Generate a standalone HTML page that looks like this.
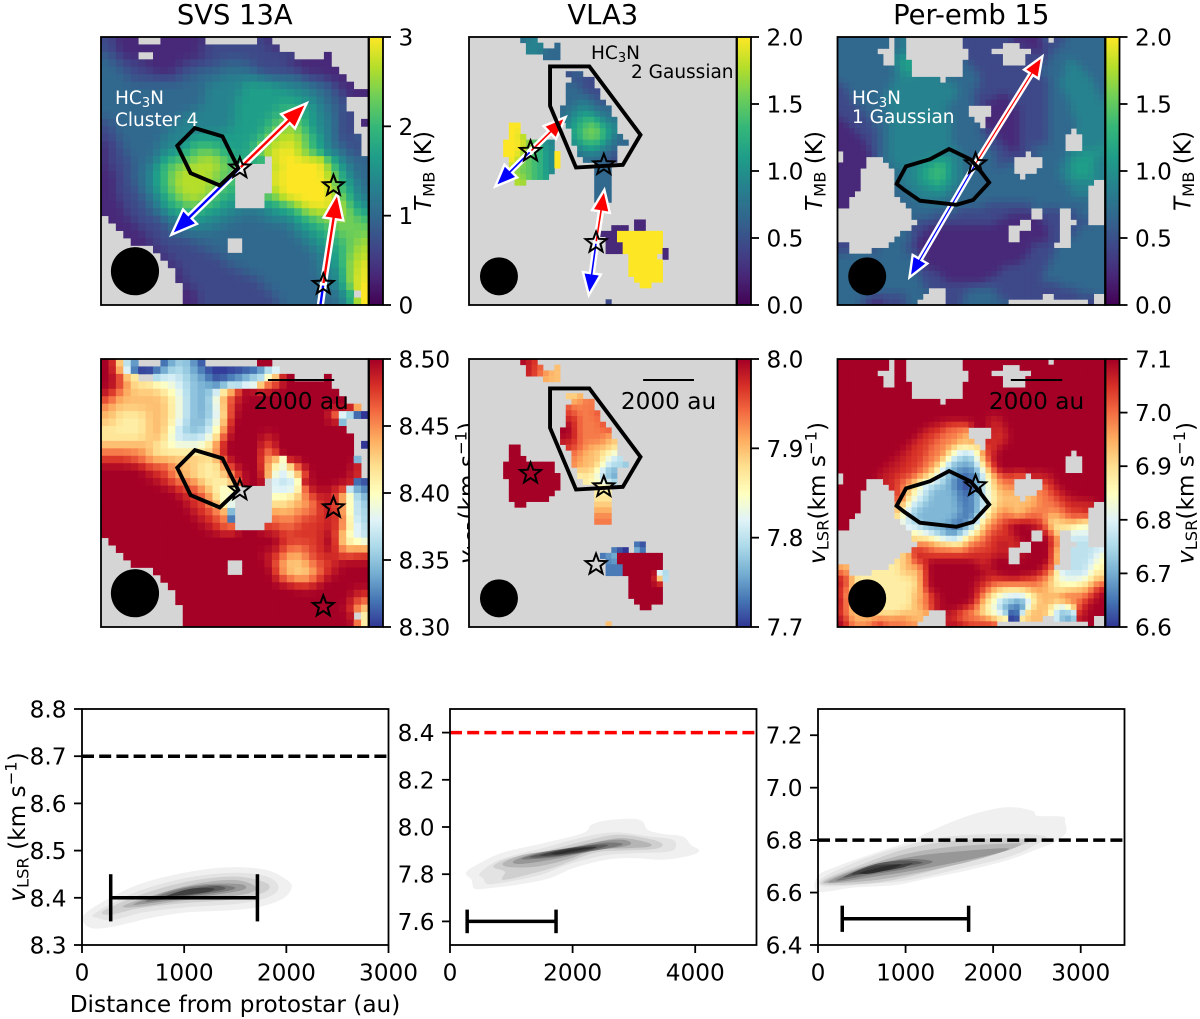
<!DOCTYPE html>
<html lang="en">
<head>
<meta charset="utf-8">
<title>HC3N temperature and velocity maps</title>
<style>
html,body{margin:0;padding:0;background:#fff}
svg{display:block;font-family:"DejaVu Sans","Liberation Sans",sans-serif}
</style>
</head>
<body>
<svg id="figure" xmlns="http://www.w3.org/2000/svg" width="1200" height="1019" viewBox="0 0 1200 1019"></svg>
<script>
// ---------- heatmap data: encoded levels 0-9 (a = 8.5), "." = masked ----------
const svsTempRows = [
"22111. ..1111 11.... ...21. ...... ......",
"221111 111111 122222 222221 ...... ......",
"32211. .11111 112222 222222 22.... 1.....",
"332221 111112 222233 332222 211111 1.....",
"333222 211122 233333 333222 222111 11....",
"333322 222223 333344 444433 333222 111...",
"333333 333333 334444 455555 444433 3211..",
"333333 333333 334444 455555 554443 322111",
"333333 333333 334444 555555 555544 332...",
"333333 333333 344444 555555 666554 332...",
"333333 333334 444444 555556 666554 4322..",
"233333 333344 444444 555566 777654 4322.1",
"223333 333444 444445 555567 887654 4322..",
"223333 334444 555555 555678 888765 43223.",
"122333 334445 666655 556788 898765 43322.",
"122333 344556 677665 556889 998765 44332.",
"122233 345667 788876 6655.8 999999 754333",
"122233 456778 888877 .....8 999999 865433",
"112233 456788 888776 .....8 999999 875433",
"112233 456788 888776 .....9 999999 976543",
"112223 456788 888766 .....7 999999 976543",
"112223 345678 887665 ....78 999999 987644",
"111222 345667 776655 ....55 678999 988654",
"111222 334556 655544 444445 556788 888765",
".11122 223445 554444 333344 445667 787776",
"..1112 222334 444433 333333 344556 677777",
"...111 222333 333333 333333 334455 667777",
"....11 122222 33333. .33333 333445 566778",
"...... .12222 22333. .33333 333344 556788",
"...... ..1222 222233 333333 333334 456788",
"...... ...122 222223 333333 333334 456889",
"...... ....12 222222 233333 333334 445889",
"...... ....12 222222 222333 333333 445889",
"...... .....1 222222 222233 333333 445899",
"...... .....1 122222 222223 333333 3345.9",
"...... .....1 122222 222222 333333 334599"
];
const svsVelRows = [
"99622. ..0223 10.... ...99. ...... ......",
"996300 001332 210000 000033 ...... ......",
"99865. .34433 221001 123345 99.... 9.....",
"998755 554433 222123 344588 999999 9.....",
"987666 665543 222467 899999 999999 99....",
"876666 666543 222468 a99999 999999 999...",
"766666 666543 222468 999999 999999 99996.",
"665555 666543 222358 999999 999999 964300",
"665555 666543 223469 999999 999999 991...",
"555555 666432 223469 999999 999999 999...",
"555555 666433 334589 999989 999999 9999..",
"666666 655444 445699 999979 999999 9999.0",
"777777 655555 556799 999969 999999 9999..",
"888877 666666 665589 999957 399999 99992.",
"999999 888766 655568 999965 458999 99998.",
"999999 a88766 555567 899963 345899 99998.",
"999999 998877 765555 8999.4 334999 999800",
"999999 999988 866544 .....3 3348a9 9a8321",
"999999 999998 887544 .....5 556788 977432",
"999999 999999 887654 .....5 566678 987432",
"999999 999999 a88761 .....7 667778 a87433",
"999999 999999 9a8871 .....7 777888 aa7432",
"999999 999999 99a876 ....78 778888 a88543",
"999999 999999 999999 999999 888888 9a5433",
".99999 999999 999999 999999 888888 995543",
"..9999 999999 999999 999999 877788 996677",
"...999 999999 999999 999988 766788 888888",
"....99 999999 99999. .99998 666678 8a9999",
"...... .99999 99999. .99998 665667 8a9999",
"...... ..9999 999999 999999 776678 999999",
"...... ...999 999999 999999 99aaa9 999999",
"...... ....99 999999 999999 999999 99998a",
"...... ....99 999999 999999 999999 999987",
"...... .....9 999999 999999 999999 999866",
"...... .....9 999999 999999 999999 9999.4",
"...... .....9 999999 999999 999999 999984"
];
// sparse maps: [row, first column, encoded levels]
const vlaTempSegments = [
[0,9,"344"],[1,10,"444"],[1,15,"3"],[2,10,"444333"],[3,13,"333"],
[6,17,"233"],[7,18,"2222"],[8,17,"33322"],[9,17,"333222"],[10,17,"333332"],[11,17,"3344332"],
[12,16,"334444333"],[13,16,"344555443"],[14,16,"3455665443"],[15,17,"456677554"],[16,18,"56777654"],
[17,18,"567776543"],[18,18,"4566654333"],[19,19,"4555443"],[20,19,"3444332"],[21,20,"333322"],
[22,22,"333"],[23,22,"333"],[24,22,"333"],[25,22,"333"],[26,22,"333"],[27,22,"333"],[28,22,"333"],
[15,7,"99"],[16,7,"99"],[17,7,"997"],[18,6,"999977544"],[19,6,"999977654"],[20,6,"9997766549"],
[21,7,"997766549"],[22,7,"977766549"],[23,7,"87776654"],[24,7,"8877665"],[25,8,"88"],
[32,29,"11"],[33,25,"111"],[33,29,"11"],[34,23,"111"],[34,26,"99999999"],[35,24,"11"],[35,26,"99999999"],
[36,24,"111"],[36,27,"9999999"],[37,24,"111"],[37,27,"9999999"],[37,34,"1"],[38,28,"99999"],[38,34,"1"],
[39,28,"999999"],[40,28,"999999"],[41,28,"999999"],[42,29,"99999"],[43,30,"99"],[46,24,"2"]
];
const vlaVelSegments = [
[0,9,"9a8"],[1,10,"a87"],[1,15,"6"],[2,10,"a87766"],[3,13,"666"],
[6,17,"656"],[7,18,"6777"],[8,17,"87777"],[9,17,"877778"],[10,17,"897777"],[11,17,"9877778"],
[12,16,"99a777778"],[13,16,"99a777776"],[14,16,"a8a7777766"],[15,17,"887766665"],[16,18,"77666554"],
[17,18,"766665433"],[18,18,"7766653332"],[19,19,"5664322"],[20,19,"5554321"],[21,20,"554433"],
[22,22,"555"],[23,22,"555"],[24,22,"555"],[25,22,"666"],[26,22,"666"],[27,22,"777"],[28,22,"777"],
[15,7,"99"],[16,7,"99"],[17,7,"999"],[18,6,"999999999"],[19,6,"999999999"],[20,6,"9999999999"],
[21,7,"999999999"],[22,7,"999999999"],[23,7,"99999999"],[24,7,"9999999"],[25,8,"99"],
[32,29,"00"],[33,25,"000"],[33,29,"40"],[34,23,"114"],[34,26,"99999999"],[35,24,"11"],[35,26,"99999999"],
[36,24,"111"],[36,27,"9999999"],[37,24,"111"],[37,27,"999999"],[37,33,"4"],[37,34,"2"],[38,28,"99999"],[38,33,"5"],[38,34,"2"],
[39,28,"999999"],[40,28,"999999"],[41,28,"999999"],[42,29,"99999"],[43,30,"99"],[46,24,"6"]
];
const perTempRows = [
"333333 333.34 ...... ....22 222222 211111 3.2233 33333",
"333333 333.34 ...... ....22 22222. ..2111 222333 33333",
"333333 3...34 ...... .....2 222... ....21 223333 33333",
"333333 33..45 ...... .....2 22222. ...222 233333 33333",
"333333 33..45 5..... ....32 22222. ...222 233344 33333",
"333333 333345 5..... ....33 222222 222223 333344 43333",
"333333 333344 5..... ....33 322222 222222 333344 44333",
"333333 333344 444444 .33333 322222 222222 233444 44433",
"233333 333444 444444 444333 322222 222222 233444 44433",
"223333 333444 444444 444333 222222 222222 233344 44443",
"223333 334444 444444 444333 222211 222222 233344 44443",
"222333 334444 444444 443333 221111 122222 233334 44444",
"222233 333444 444444 43333. ...111 112222 233334 44444",
"222223 333444 444444 44333. ...111 112222 233334 44444",
"122222 333444 444444 443333 ..1111 112222 233333 44444",
"112222 333444 444444 443333 3.1111 112222 233333 44444",
"111222 233444 444444 443333 322111 112222 23333. 44444",
"111122 233444 444444 443333 332211 112222 2333.. .4444",
"111112 233444 444444 443333 332221 112222 2333.. .4444",
"111112 233444 444444 444333 333222 112233 3333.. .4445",
".11111 233444 444444 444433 333322 222.23 333344 45554",
".1111. ..3444 444455 554433 333322 2..... 333345 55544",
"11111. ...344 445556 654433 333323 3..... 333445 55544",
"1111.. ....34 445566 654433 333333 3....3 333445 55544",
"1111.. ....34 445566 654433 333333 33.333 333445 55544",
"1111.. ....34 445556 554433 333333 333333 333344 444..",
"1111.. ....33 444455 544333 333333 333333 333334 44...",
"111... ....33 344444 443333 333333 333333 333334 44...",
"11.... .....3 334444 433333 333333 333333 333333 33...",
"11.... ...... 333333 333333 332222 222233 333333 33...",
"...... ...... .33333 333222 222222 2222.. 222..2 33...",
"...... ...... .33332 222222 222222 1111.. 222..2 33...",
"...... ...... ..2222 222222 222211 11..11 222... 22...",
"...... ...... .22211 111111 111111 ....11 122..2 33333",
"...... .....3 322111 111111 111111 ..1111 122..2 33333",
"...... ....33 321111 111111 111111 ..1111 122..3 33333",
"22.... ...333 221111 111111 111111 111122 22...3 33333",
"22.... 233333 221111 111111 111111 111122 223333 33333",
"333333 333333 332111 111111 111111 111222 223333 33333",
"333333 333333 332111 111111 111111 112222 233333 33333",
"333344 333333 332211 111111 111112 222222 233333 33333",
"333444 433333 332222 111111 111122 222222 333333 33333",
"333444 433333 333222 211111 112222 222222 333333 33333",
"333344 333333 333222 222222 222222 222222 222333 33333",
"333333 333333 3333.. .22223 333322 222222 222222 33333",
"333332 222222 333... .22233 333322 222222 ..2222 222..",
"333322 112222 33.... .22233 333333 ...... ...... ..2.."
];
const perVelRows = [
"999999 999.99 ...... ....99 999999 999999 9.9999 99999",
"999999 999.99 ...... ....99 99999. ..9999 999999 99999",
"999999 9...99 ...... .....9 999... ....99 999999 99999",
"999999 99..99 ...... .....9 99999. ...999 999999 99999",
"999999 99..99 9..... ....99 99999. ...999 999999 99999",
"999999 999999 9..... ....99 999999 999999 999999 99999",
"999999 999999 9..... ....99 999999 999999 999999 99999",
"999999 999999 999999 .99999 999999 999999 999999 99999",
"999999 999999 999999 999999 999999 999999 999999 99999",
"999999 999999 999999 999999 999999 999999 999999 99999",
"999999 999999 999999 999999 99aaa9 999999 999999 99999",
"999999 999999 99999a a8888a 9998a9 999999 999999 99999",
"999999 999999 999a88 87776. ...a8a 999999 999999 99999",
"999999 999999 99a888 77776. ...a8a 999999 999999 99999",
"999999 999999 9a8887 777667 ..a88a 999999 999999 99999",
"999999 999999 a88877 766555 6.8899 999999 999999 99999",
"999999 99999a a88877 764333 478899 999999 99999. 99999",
"999999 9999aa 888777 643322 468999 999999 9999.. .9999",
"999999 999aaa 888776 532222 357899 999999 9999.. .9999",
"999999 99aaa8 887765 322111 246899 999999 9999.. .9999",
".99999 9aaa88 877654 322111 135678 877.88 aa9999 99999",
".9999. ..a887 765443 321101 234677 7..... 8a9999 99999",
"99999. ...a87 654332 221100 234667 7..... 78a999 99999",
"9999.. ....87 654322 222111 234566 6....7 788a99 99999",
"9999.. ....87 543322 222111 234566 66.667 7788aa 99999",
"9999.. ....76 433222 222111 234566 666667 77788a 888..",
"9999.. ....65 332222 222211 235667 666777 777788 8a...",
"999... ....64 322222 222111 245677 766777 766778 7a...",
"99.... .....4 332222 221112 356778 8a9a88 756667 65...",
"99.... ...... 433222 211123 467788 99999a 865554 44...",
"...... ...... .54432 211234 567888 a999.. 975..4 44...",
"...... ...... .65554 433456 778888 8a99.. 996..3 33...",
"...... ...... ..7776 665567 778899 8a..99 996... 33...",
"...... ...... .88877 777778 888888 ....99 9a5..3 33333",
"...... .....6 5a8888 888888 8a8a9a ..a999 995..3 33345",
"...... ....56 6a8a99 999999 a8a999 ..9999 9a5..3 33344",
"66.... ...556 666a99 999999 9aa999 999999 a7...3 33455",
"86.... 555556 666a99 999999 99aa99 99999a 875333 33455",
"a86555 555555 566a99 999999 9aa8aa a98887 764444 44566",
"a86555 555555 556899 999999 a88777 777777 665544 55677",
"a76555 555555 566a99 999999 a87665 555667 665566 66789",
"a75555 555555 56668a 999999 876544 444556 666777 778a9",
"976555 555555 5677aa 999999 865432 211356 676777 78a99",
"976666 555555 56678a 9999a8 765532 211466 653346 8a999",
"876666 655556 6666.. .aa877 654332 004666 653223 8a999",
"986666 677777 666... .a8777 777666 005666 ..4213 a99..",
"9a7777 8a7777 77.... .a99a8 8888.. ...... ...... ..9.."
];

// ---------- map annotations (percent of the map width / height) ----------
const svsContour = [[28.5,40.6],[35.1,34.0],[45.4,37.1],[51.3,48.9],[44.4,55.4],[33.5,50.8]];
const vlaContour = [[30.3,11],[45.0,11],[64.1,36.5],[57.5,47.7],[40.0,48.7],[30.3,25.7]];
const perContour = [[22.1,54.8],[25.6,48.3],[34.6,45.6],[41.7,41.8],[49.6,45.6],[52.6,48.9],[56.7,54.3],[50.7,60.8],[44.5,62.6],[30.8,61.1],[24.9,57.0]];
const svsStars = [[51.9,48.9],[86.9,55.5],[83.1,92.3]];
const vlaStars = [[23.0,42.7],[50.4,47.7],[47.5,76.7]];
const perStars = [[51.6,47.3]];
// [star index, red tip x, red tip y, blue tip x, blue tip y]; a tip beyond 100 runs off the map
const svsOutflows = [[0,76.9,24.7,26.3,73.8],[2,88.4,58.3,78.5,125]];
const vlaOutflows = [[0,36.1,29.9,9.8,55.8],[2,50.6,57.0,44.8,96.3]];
const perOutflows = [[0,76.6,7.2,26.9,89.7]];
const beamCenters = [[12.7,87.4],[11.2,89.3],[11.1,89.3]];
const beamRadii = [9,7.1,7.1];
const scaleBarSpans = [[62.4,87.2],[65.1,84.1],[64.8,84.0]];

// ---------- colorbar ticks ----------
const tempLimits = [[0,3],[0,2],[0,2]];
const velLimits = [[8.3,8.5],[7.7,8.0],[6.6,7.1]];
const tempTicks = [["0","1","2","3"],["0.0","0.5","1.0","1.5","2.0"],["0.0","0.5","1.0","1.5","2.0"]];
const velTicks = [["8.30","8.35","8.40","8.45","8.50"],["7.7","7.8","7.9","8.0"],["6.6","6.7","6.8","6.9","7.0","7.1"]];
const sourceNames = ["SVS 13A","VLA3","Per-emb 15"];

// ---------- KDE contours (distance au, vLSR km/s), outermost level first ----------
const svsKdeLevels = [
[[20,8.364],[176,8.388],[503,8.424],[829,8.445],[1155,8.459],[1482,8.465],[1808,8.459],[2004,8.438],[2053,8.422],[1971,8.399],[1743,8.381],[1417,8.373],[1025,8.369],[666,8.357],[307,8.339],[111,8.335],[20,8.346]],
[[127,8.367],[503,8.410],[992,8.441],[1482,8.453],[1808,8.445],[1922,8.424],[1841,8.403],[1547,8.388],[1025,8.380],[601,8.369],[307,8.353],[160,8.357]],
[[215,8.373],[568,8.406],[1025,8.434],[1482,8.445],[1776,8.434],[1834,8.420],[1710,8.406],[1417,8.395],[960,8.388],[568,8.378],[274,8.364]],
[[405,8.383],[764,8.410],[1155,8.431],[1482,8.438],[1678,8.427],[1678,8.413],[1482,8.404],[1025,8.395],[568,8.381]],
[[519,8.388],[894,8.417],[1221,8.429],[1547,8.429],[1596,8.419],[1417,8.410],[960,8.397],[601,8.387]],
[[617,8.392],[960,8.418],[1286,8.427],[1498,8.422],[1384,8.413],[960,8.401]],
[[764,8.399],[1058,8.418],[1319,8.425],[1400,8.419],[1221,8.411],[894,8.401]],
[[813,8.403],[1058,8.419],[1286,8.420],[1221,8.412],[894,8.404]]
];
const vlaKdeLevels = [
[[260,7.807],[488,7.847],[868,7.892],[1518,7.931],[2169,7.974],[2305,8.009],[2549,8.028],[2983,8.035],[3145,8.023],[3227,7.988],[3471,7.971],[3796,7.960],[3932,7.924],[4067,7.900],[3905,7.878],[3471,7.861],[2983,7.868],[2549,7.861],[2006,7.825],[1627,7.783],[1085,7.755],[542,7.738],[390,7.740],[352,7.776]],
[[488,7.804],[813,7.861],[1518,7.911],[2223,7.960],[2712,7.977],[3254,7.960],[3634,7.946],[3677,7.911],[3525,7.894],[2983,7.889],[2495,7.879],[1898,7.839],[1464,7.796],[813,7.762],[607,7.759],[542,7.783]],
[[705,7.832],[976,7.868],[1627,7.903],[2278,7.946],[2766,7.967],[3308,7.946],[3471,7.924],[3308,7.906],[2766,7.900],[2332,7.889],[1735,7.832],[1356,7.804],[868,7.776],[895,7.811]],
[[868,7.847],[1193,7.882],[1735,7.903],[2332,7.934],[2793,7.953],[3227,7.934],[3254,7.917],[2875,7.910],[2386,7.903],[1898,7.861],[1410,7.832],[976,7.830]],
[[1031,7.854],[1356,7.886],[1898,7.906],[2440,7.938],[2820,7.946],[2956,7.929],[2766,7.914],[2332,7.900],[1790,7.868],[1193,7.844]],
[[1166,7.865],[1573,7.896],[2115,7.917],[2549,7.934],[2820,7.929],[2657,7.914],[2115,7.889],[1573,7.868]],
[[1312,7.875],[1790,7.903],[2223,7.921],[2576,7.924],[2386,7.906],[1898,7.882],[1464,7.871]],
[[1464,7.879],[1898,7.907],[2386,7.917],[2223,7.900],[1790,7.883]],
[[1654,7.888],[2006,7.907],[2386,7.914],[2061,7.899],[1790,7.885]]
];
const perKdeLevels = [
[[0,6.664],[209,6.699],[588,6.744],[1044,6.795],[1234,6.826],[1537,6.871],[1879,6.909],[2183,6.926],[2448,6.912],[2505,6.893],[2790,6.890],[2820,6.871],[2828,6.826],[2676,6.788],[2486,6.763],[2183,6.725],[1727,6.686],[1272,6.655],[892,6.629],[437,6.620],[0,6.604]],
[[19,6.648],[399,6.712],[968,6.776],[1499,6.814],[2183,6.824],[2600,6.814],[2486,6.782],[2183,6.737],[1651,6.693],[1044,6.648],[588,6.633],[95,6.623]],
[[57,6.646],[437,6.699],[968,6.763],[1499,6.795],[2107,6.807],[2410,6.801],[2334,6.782],[2031,6.750],[1575,6.709],[1082,6.664],[664,6.638],[133,6.629]],
[[95,6.646],[512,6.699],[1044,6.750],[1575,6.776],[2107,6.786],[2316,6.786],[2183,6.763],[1727,6.718],[1120,6.674],[664,6.648],[171,6.636]],
[[140,6.646],[550,6.699],[1082,6.737],[1575,6.756],[2107,6.769],[2145,6.760],[1803,6.731],[1120,6.686],[664,6.661],[209,6.639]],
[[228,6.651],[588,6.699],[1006,6.727],[1310,6.718],[1044,6.693],[588,6.667],[285,6.648]],
[[292,6.658],[626,6.706],[968,6.722],[1196,6.714],[968,6.699],[588,6.676]],
[[380,6.671],[664,6.703],[949,6.709],[1082,6.712],[930,6.693],[588,6.674]],
[[482,6.676],[740,6.699],[949,6.707],[835,6.690],[588,6.672]]
];
const kdeXLimits = [[0,3000],[0,5000],[0,3500]];
const kdeYLimits = [[8.3,8.8],[7.5,8.5],[6.4,7.3]];
const kdeXTicks = [[0,1000,2000,3000],[0,2000,4000],[0,1000,2000,3000]];
const kdeYTicks = [["8.3","8.4","8.5","8.6","8.7","8.8"],["7.6","7.8","8.0","8.2","8.4"],["6.4","6.6","6.8","7.0","7.2"]];
const systemicVelocity = [8.7,8.4,6.8];
const fwhmStart = [281,280,277];
const fwhmEnd = [1717,1730,1720];
const fwhmVelocity = [8.4,7.6,6.5];
const fwhmCapHalfHeight = [0.05,0.05,0.05];

// ---------- styles ----------
const viridisStops = ["#440154","#482878","#3e4989","#31688e","#26828e","#1f9e89","#35b779","#6ece58","#b5de2b","#fde725"];
const rdYlBuStops = ["#313695","#4575b4","#74add1","#abd9e9","#e0f3f8","#ffffbf","#fee090","#fdae61","#f46d43","#d73027","#a50026"];
const kdeGreys = ["#f0f0f0","#e3e3e3","#cfcfcf","#b5b5b5","#979797","#787878","#5a5a5a","#404040","#2d2d2d"];
const mapLefts = [101,469,837.5];
const mapTops = [37,359];
const MAP_W = 267.5, MAP_H = 268, CB_W = 14;
const kdeLefts = [82,450,818];
const KDE_W = 306.5, KDE_TOP = 709, KDE_H = 236;
const TICK_FS = 23.2;
const arrowHeadLength = [26,22,21];
const arrowHeadHalf = [10,9,8.5];
const arrowShaftHalf = [2.4,2,1.8];

const NS = "http://www.w3.org/2000/svg";
const root = document.getElementById("figure");
function mk(tag, attrs, parent) {
  const el = document.createElementNS(NS, tag);
  for (const k in attrs) el.setAttribute(k, attrs[k]);
  (parent || root).appendChild(el);
  return el;
}
function hexToRgb(h) { return [1,3,5].map(i => parseInt(h.substr(i,2),16)); }
function colorAt(stops, t) {
  t = Math.max(0, Math.min(1, t));
  const p = t * (stops.length - 1), i = Math.min(Math.floor(p), stops.length - 2), f = p - i;
  const a = hexToRgb(stops[i]), b = hexToRgb(stops[i+1]);
  return "rgb(" + a.map((v,j) => Math.round(v + (b[j]-v)*f)).join(",") + ")";
}
function levelOf(ch) { return ch === "a" ? 8.5 : parseInt(ch, 10); }
function matrixFromRows(rows) {
  return rows.map(r => r.replace(/ /g, "").split(""));
}
function matrixFromSegments(segs, n) {
  const m = [];
  for (let r = 0; r < n; r++) m.push(new Array(n).fill("."));
  segs.forEach(s => { s[2].split("").forEach((ch,i) => { m[s[0]][s[1]+i] = ch; }); });
  return m;
}
// display resampling: the reference image is interpolated on screen, so soften
// neighbouring levels (but keep the sharp jumps across real discontinuities)
function displayLevels(matrix) {
  return matrix.map((rowVals, r) => rowVals.map((c, i) => {
    if (c === ".") return null;
    const own = levelOf(c);
    let sum = 0, wt = 0;
    for (let dr = -1; dr <= 1; dr++) for (let dc = -1; dc <= 1; dc++) {
      const nb = (matrix[r+dr] || [])[i+dc];
      if (nb === undefined || nb === ".") continue;
      const lv = levelOf(nb);
      if (Math.abs(lv-own) > 4) continue;
      const w = dr === 0 && dc === 0 ? 4 : (dr === 0 || dc === 0 ? 2 : 1);
      sum += lv*w; wt += w;
    }
    return sum/wt;
  }));
}
function mapAxisX(col, u) { return mapLefts[col] + u / 100 * MAP_W; }
function mapAxisY(row, v) { return mapTops[row] + v / 100 * MAP_H; }

function addSubLabel(g, x, y, lead, italicLead, sub, tail, name) {
  const t = mk("text", {transform:"translate("+x+","+y+") rotate(-90)", "text-anchor":"middle", "font-size":TICK_FS, fill:"#000"}, g);
  
  
  const a = mk("tspan", {"font-style": italicLead ? "italic" : "normal"}, t);
  a.textContent = lead;
  const b = mk("tspan", {"font-size":16.3, dy:3.5}, t);
  b.textContent = sub;
  const c = mk("tspan", {dy:-3.5}, t);
  c.textContent = tail.base;
  if (tail.sup) {
    const d = mk("tspan", {"font-size":16.3, dy:-8.5}, t);
    d.textContent = tail.sup;
    const e = mk("tspan", {dy:8.5}, t);
    e.textContent = ")";
  }
}
function hc3n(g, x, y, fill) {
  const t = mk("text", {x:x, y:y, "font-size":18.5, fill:fill}, g);
  
  
  const a = mk("tspan", {}, t);
  a.textContent = "HC";
  const b = mk("tspan", {"font-size":13, dy:3}, t);
  b.textContent = "3";
  const c = mk("tspan", {dy:-3}, t);
  c.textContent = "N";
}
function note(g, x, y, str, fill) {
  const t = mk("text", {x:x, y:y, "font-size":18.5, fill:fill}, g);
  
  
  t.textContent = str;
}
function starPoints(cx, cy, R) {
  const pts = [];
  for (let i = 0; i < 10; i++) {
    const r = i % 2 ? R * 0.42 : R, a = -Math.PI/2 + i * Math.PI/5;
    pts.push((cx + r*Math.cos(a)).toFixed(2) + "," + (cy + r*Math.sin(a)).toFixed(2));
  }
  return pts.join(" ");
}
function arrowPoints(col, x0, y0, x1, y1) {
  const dx = x1-x0, dy = y1-y0, L = Math.hypot(dx,dy), ux = dx/L, uy = dy/L, nx = -uy, ny = ux;
  const hl = arrowHeadLength[col], hw = arrowHeadHalf[col], sw = arrowShaftHalf[col], bx = x1-ux*hl, by = y1-uy*hl;
  const p = [[x0+nx*sw,y0+ny*sw],[bx+nx*sw,by+ny*sw],[bx+nx*hw,by+ny*hw],[x1,y1],[bx-nx*hw,by-ny*hw],[bx-nx*sw,by-ny*sw],[x0-nx*sw,y0-ny*sw]];
  return p.map(q => q[0].toFixed(2)+","+q[1].toFixed(2)).join(" ");
}

function drawMapPanel(col, row, cfg) {
  const left = mapLefts[col], top = mapTops[row];
  const g = mk("g", {}, root);
  
  
  const clipId = "map-clip-" + col + "-" + row;
  const clip = mk("clipPath", {id:clipId}, g);
  
  
  const clipRect = mk("rect", {x:left, y:top, width:MAP_W, height:MAP_H}, clip);
  
  
  const bg = mk("rect", {x:left, y:top, width:MAP_W, height:MAP_H, fill:"#d5d5d5"}, g);
  
  
  const n = cfg.matrix.length, cw = MAP_W / cfg.matrix[0].length, ch = MAP_H / n;
  const shown = displayLevels(cfg.matrix);
  shown.forEach((rowVals, r) => {
    rowVals.forEach((lev, i) => {
      if (lev === null) return;
      const val = cfg.limits[0] + lev/9*(cfg.limits[1]-cfg.limits[0]);
      const cell = mk("rect", {x:(left+i*cw).toFixed(2), y:(top+r*ch).toFixed(2), width:(cw+0.4).toFixed(2), height:(ch+0.4).toFixed(2), fill:colorAt(cfg.cmap, (val-cfg.limits[0])/(cfg.limits[1]-cfg.limits[0]))}, g);
      
      
    });
  });
  const beam = mk("circle", {cx:mapAxisX(col, beamCenters[col][0]), cy:mapAxisY(row, beamCenters[col][1]), r:beamRadii[col]/100*MAP_W}, g);
  
  
  const arrows = mk("g", {"clip-path":"url(#"+clipId+")"}, g);
  
  
  (cfg.outflows || []).forEach(o => {
    const s = cfg.stars[o[0]];
    const sx = mapAxisX(col, s[0]), sy = mapAxisY(row, s[1]);
    const red = mk("polygon", {points:arrowPoints(col, sx, sy, mapAxisX(col,o[1]), mapAxisY(row,o[2])), fill:"#f00", stroke:"#fff", "stroke-width":2.4}, arrows);
    
    
    const blue = mk("polygon", {points:arrowPoints(col, sx, sy, mapAxisX(col,o[3]), mapAxisY(row,o[4])), fill:"#00f", stroke:"#fff", "stroke-width":2.4}, arrows);
    
    
  });
  const contour = mk("polygon", {points:cfg.contour.map(p => mapAxisX(col,p[0]).toFixed(2)+","+mapAxisY(row,p[1]).toFixed(2)).join(" "), fill:"none", stroke:"#000", "stroke-width":3.9}, g);
  
  
  cfg.stars.forEach(s => {
    const st = mk("polygon", {points:starPoints(mapAxisX(col,s[0]), mapAxisY(row,s[1]), 11), fill:"none", stroke:"#000", "stroke-width":2}, g);
    
    
  });
  if (cfg.scaleBar) {
    const span = scaleBarSpans[col];
    const bar = mk("line", {x1:mapAxisX(col,span[0]), x2:mapAxisX(col,span[1]), y1:top+21, y2:top+21, stroke:"#000", "stroke-width":1.9}, g);
    
    
    const lab = mk("text", {x:mapAxisX(col,(span[0]+span[1])/2), y:top+50, "text-anchor":"middle", "font-size":TICK_FS}, g);
    
    
    lab.textContent = "2000 au";
  }
  const frame = mk("rect", {x:left, y:top, width:MAP_W, height:MAP_H, fill:"none", stroke:"#000", "stroke-width":1.8}, g);
  
  

  // colorbar
  const cbL = left + MAP_W + 0.5;
  const cb = mk("g", {}, g);
  
  
  const steps = 128;
  for (let i = 0; i < steps; i++) {
    const seg = mk("rect", {x:cbL, y:(top+MAP_H-(i+1)*MAP_H/steps).toFixed(2), width:CB_W, height:(MAP_H/steps+0.5).toFixed(2), fill:colorAt(cfg.cmap,(i+0.5)/steps)}, cb);
    
    
  }
  const cbf = mk("rect", {x:cbL, y:top, width:CB_W, height:MAP_H, fill:"none", stroke:"#000", "stroke-width":1.8}, cb);
  
  
  cfg.ticks.forEach(lbl => {
    const y = top + MAP_H - (parseFloat(lbl)-cfg.limits[0])/(cfg.limits[1]-cfg.limits[0])*MAP_H;
    const tk = mk("line", {x1:cbL+CB_W, x2:cbL+CB_W+8, y1:y, y2:y, stroke:"#000", "stroke-width":1.8}, cb);
    
    
    const tx = mk("text", {x:cbL+CB_W+15.5, y:y+8.5, "font-size":TICK_FS}, cb);
    
    
    tx.textContent = lbl;
  });
  if (row === 0) {
    const off = col === 0 ? 48 : 71;
    addSubLabel(cb, cbL+CB_W+off, top+134, "T", true, "MB", {base:" (K)"}, "temperature-colorbar-label");
  } else {
    const off = col === 0 ? 92 : 74;
    addSubLabel(cb, cbL+CB_W+off, top+134, "v", true, "LSR", {base:"(km s", sup:"\u22121"}, "velocity-colorbar-label");
  }
  return g;
}

const smoothPath = (pts) => {
  const n = pts.length;
  let d = "M" + pts[0][0].toFixed(2) + " " + pts[0][1].toFixed(2);
  for (let i = 0; i < n; i++) {
    const p0 = pts[(i-1+n)%n], p1 = pts[i], p2 = pts[(i+1)%n], p3 = pts[(i+2)%n];
    d += "C" + (p1[0]+(p2[0]-p0[0])/6).toFixed(2) + " " + (p1[1]+(p2[1]-p0[1])/6).toFixed(2) + " " +
         (p2[0]-(p3[0]-p1[0])/6).toFixed(2) + " " + (p2[1]-(p3[1]-p1[1])/6).toFixed(2) + " " +
         p2[0].toFixed(2) + " " + p2[1].toFixed(2);
  }
  return d + "Z";
};

function drawKde(i, levels) {
  const left = kdeLefts[i], xl = kdeXLimits[i], yl = kdeYLimits[i];
  const xs = v => left + (v-xl[0])/(xl[1]-xl[0])*KDE_W;
  const ys = v => KDE_TOP + KDE_H - (v-yl[0])/(yl[1]-yl[0])*KDE_H;
  const g = mk("g", {}, root);
  
  
  const bg = mk("rect", {x:left, y:KDE_TOP, width:KDE_W, height:KDE_H, fill:"#fff"}, g);
  
  
  levels.forEach((poly, k) => {
    const shape = mk("path", {d:smoothPath(poly.map(p => [Math.max(left,xs(p[0])), ys(p[1])])), fill:kdeGreys[k]}, g);
    
    
  });
  const hl = mk("line", {x1:left, x2:left+KDE_W, y1:ys(systemicVelocity[i]), y2:ys(systemicVelocity[i]), stroke:i===1?"#f00":"#000", "stroke-width":3.5, "stroke-dasharray":"12 5.2"}, g);
  
  
  const yb = ys(fwhmVelocity[i]);
  const eb = mk("line", {x1:xs(fwhmStart[i]), x2:xs(fwhmEnd[i]), y1:yb, y2:yb, stroke:"#000", "stroke-width":3.5}, g);
  
  
  [fwhmStart[i], fwhmEnd[i]].forEach(x => {
    const cap = mk("line", {x1:xs(x), x2:xs(x), y1:ys(fwhmVelocity[i]+fwhmCapHalfHeight[i]), y2:ys(fwhmVelocity[i]-fwhmCapHalfHeight[i]), stroke:"#000", "stroke-width":3.5}, g);
    
    
  });
  const fr = mk("rect", {x:left, y:KDE_TOP, width:KDE_W, height:KDE_H, fill:"none", stroke:"#000", "stroke-width":1.8}, g);
  
  
  kdeXTicks[i].forEach(v => {
    const x = xs(v);
    const tk = mk("line", {x1:x, x2:x, y1:KDE_TOP+KDE_H, y2:KDE_TOP+KDE_H+8, stroke:"#000", "stroke-width":1.8}, g);
    
    
    const tx = mk("text", {x:x, y:980.5, "text-anchor":"middle", "font-size":TICK_FS}, g);
    
    
    tx.textContent = String(v);
  });
  kdeYTicks[i].forEach(lbl => {
    const y = ys(parseFloat(lbl));
    const tk = mk("line", {x1:left-8, x2:left, y1:y, y2:y, stroke:"#000", "stroke-width":1.8}, g);
    
    
    const tx = mk("text", {x:left-15.5, y:y+8.5, "text-anchor":"end", "font-size":TICK_FS}, g);
    
    
    tx.textContent = lbl;
  });
}

// ---------- assemble the figure ----------
const tempMatrices = [matrixFromRows(svsTempRows), matrixFromSegments(vlaTempSegments,47), matrixFromRows(perTempRows)];
const velMatrices = [matrixFromRows(svsVelRows), matrixFromSegments(vlaVelSegments,47), matrixFromRows(perVelRows)];
const contours = [svsContour, vlaContour, perContour];
const starSets = [svsStars, vlaStars, perStars];
const outflowSets = [svsOutflows, vlaOutflows, perOutflows];

for (let c = 0; c < 3; c++) {
  const title = mk("text", {x:mapLefts[c]+MAP_W/2, y:24, "text-anchor":"middle", "font-size":27.4}, root);
  
  
  title.textContent = sourceNames[c];
  const tg = drawMapPanel(c, 0, {name:"temperature-map-"+(c+1), matrix:tempMatrices[c], limits:tempLimits[c], cmap:viridisStops, ticks:tempTicks[c], contour:contours[c], stars:starSets[c], outflows:outflowSets[c], scaleBar:false});
  if (c === 0) { hc3n(tg, 115, 104, "#fff"); note(tg, 115, 126, "Cluster 4", "#fff"); }
  if (c === 1) { hc3n(tg, 591, 59, "#000"); note(tg, 631, 78, "2 Gaussian", "#000"); }
  if (c === 2) { hc3n(tg, 852, 104, "#fff"); note(tg, 852, 123, "1 Gaussian", "#fff"); }
  drawMapPanel(c, 1, {name:"velocity-map-"+(c+1), matrix:velMatrices[c], limits:velLimits[c], cmap:rdYlBuStops, ticks:velTicks[c], contour:contours[c], stars:starSets[c], outflows:[], scaleBar:true});
}

drawKde(0, svsKdeLevels);
drawKde(1, vlaKdeLevels);
drawKde(2, perKdeLevels);

addSubLabel(root, 25, 827, "v", true, "LSR", {base:" (km s", sup:"\u22121"}, "y-axis-title");
const xTitle = mk("text", {x:235, y:1012, "text-anchor":"middle", "font-size":TICK_FS}, root);


xTitle.textContent = "Distance from protostar (au)";
</script>
</body>
</html>
